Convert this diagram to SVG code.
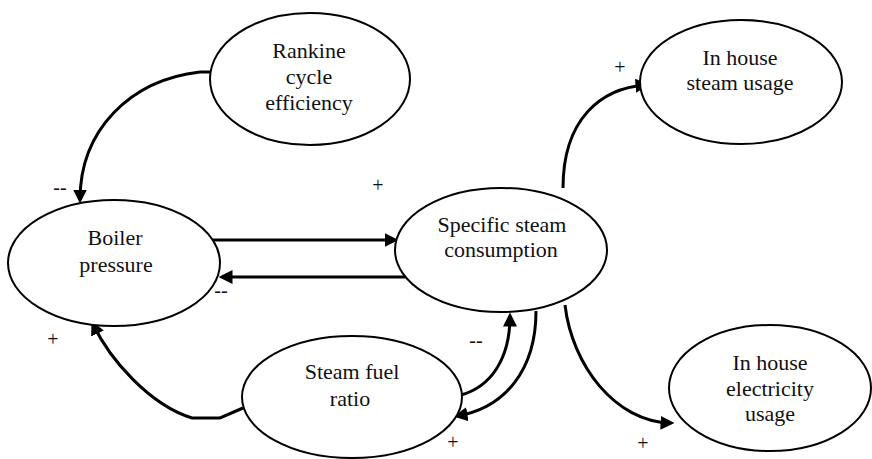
<svg xmlns="http://www.w3.org/2000/svg" width="872" height="459" viewBox="0 0 872 459">
<style>
.node ellipse{fill:#fff;stroke:#000;stroke-width:2}
.node text{font-family:"Liberation Serif","Times New Roman",serif;font-size:22px;fill:#111;text-anchor:middle}
.conn path{fill:none;stroke:#000;stroke-width:3;marker-end:url(#ah)}
.lbl{font-family:"Liberation Serif","Times New Roman",serif;font-size:20px;fill:#111;text-anchor:middle}
</style>
<defs>
<marker id="ah" viewBox="0 0 12 12" refX="9" refY="6" markerWidth="14" markerHeight="14" markerUnits="userSpaceOnUse" orient="auto">
<path d="M0,0 L12,6 L0,12 z" fill="#000"/>
</marker>
</defs>
<rect width="872" height="459" fill="#fff"/>
<g class="conn">
<path d="M210,72 L200,72 C130,80 80,130 80,200"/>
<path d="M213,240 L395,240"/>
<path d="M405,277 L222,277"/>
<path d="M243,408 L220,418 L192,418 C150,405 110,360 93,324"/>
<path d="M461,395 C490,387 510,360 510,316"/>
<path d="M536,311 C536,370 505,408 457,416"/>
<path d="M563,188 C563,120 600,88 646,85"/>
<path d="M565,305 C572,365 615,422 671,423"/>
</g>
<g id="rankine" class="node">
<ellipse cx="310" cy="79" rx="100" ry="66"/>
<text x="309" y="58">Rankine</text>
<text x="309" y="84">cycle</text>
<text x="309" y="110">efficiency</text>
</g>
<g id="boiler" class="node">
<ellipse cx="114" cy="263" rx="106" ry="63"/>
<text x="115" y="245">Boiler</text>
<text x="116" y="272">pressure</text>
</g>
<g id="specific" class="node">
<ellipse cx="501" cy="250" rx="106" ry="62"/>
<text x="502" y="232">Specific steam</text>
<text x="501" y="257">consumption</text>
</g>
<g id="steamfuel" class="node">
<ellipse cx="352" cy="397" rx="110" ry="61"/>
<text x="352" y="379">Steam fuel</text>
<text x="350" y="406">ratio</text>
</g>
<g id="steamusage" class="node">
<ellipse cx="741" cy="82" rx="101" ry="62"/>
<text x="740" y="65">In house</text>
<text x="740" y="90">steam usage</text>
</g>
<g id="electricity" class="node">
<ellipse cx="770" cy="388" rx="101" ry="63"/>
<text x="770" y="370">In house</text>
<text x="770" y="396">electricity</text>
<text x="770" y="421">usage</text>
</g>
<g id="labels">
<text class="lbl" x="60" y="194">--</text>
<text class="lbl" x="378" y="192">+</text>
<text class="lbl" x="221" y="297">--</text>
<text class="lbl" x="53" y="346">+</text>
<text class="lbl" x="476" y="347">--</text>
<text class="lbl" x="453" y="449">+</text>
<text class="lbl" x="620" y="74">+</text>
<text class="lbl" x="643" y="450">+</text>
</g>
</svg>
